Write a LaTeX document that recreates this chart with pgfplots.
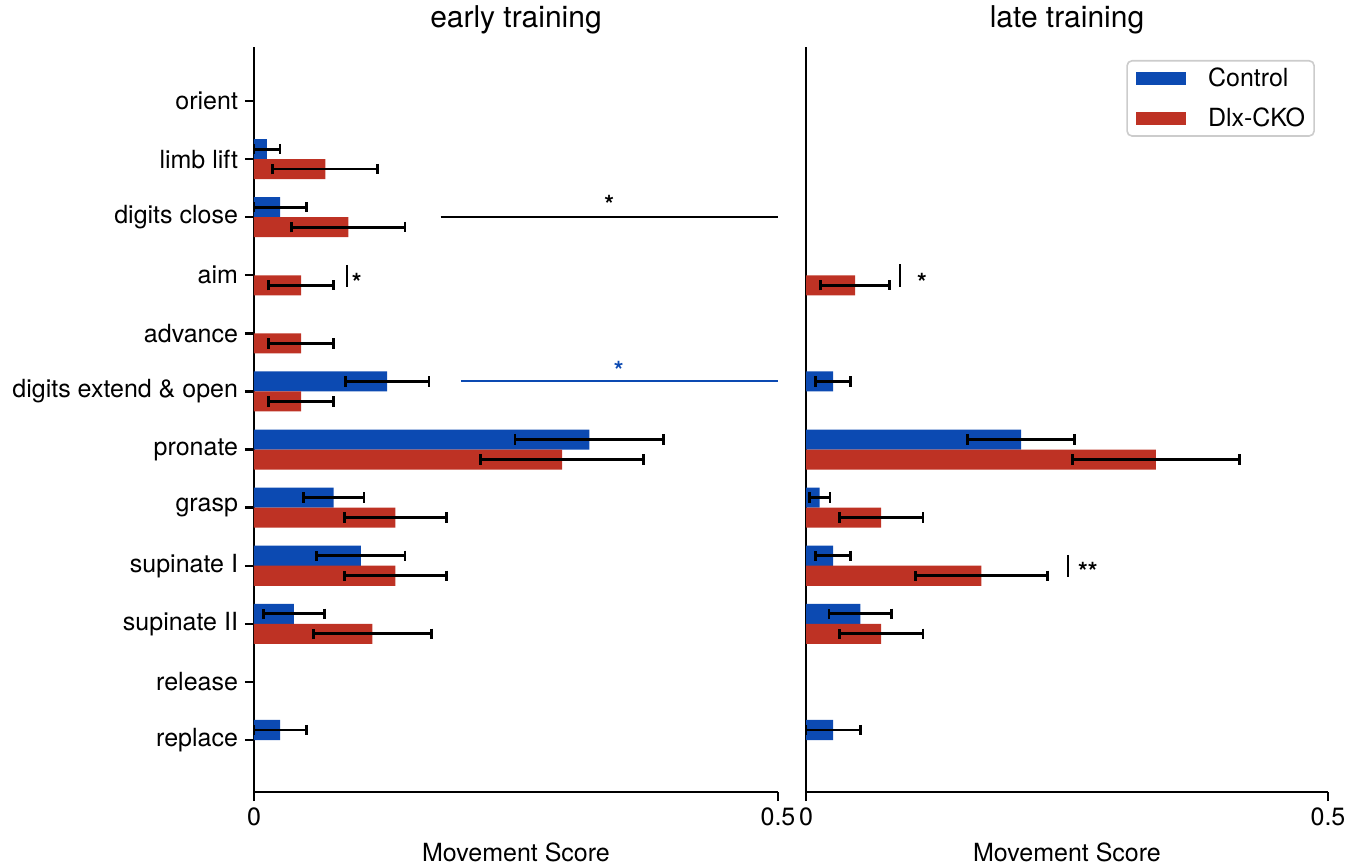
\documentclass[border=0pt]{standalone}
\usepackage{fontspec}
\setmainfont{TeX Gyre Heros}
\usepackage{pgfplots}
\pgfplotsset{compat=1.18}
\definecolor{cblue}{RGB}{12,74,178}
\definecolor{cred}{RGB}{190,50,36}
\newcommand{\lab}{\fontsize{12.5bp}{15bp}\selectfont}
\pgfplotsset{
 panel/.style={
  scale only axis, height=372.5bp,
  xbar, bar width=0.345,
  xmin=0, xmax=0.5, ymin=-0.895, ymax=11.93,
  axis x line*=bottom, axis y line*=left,
  axis line style={line width=1.2bp, -},
  xtick={0,0.5}, xticklabels={0,0.5},
  ytick={0,...,11},
  tick align=outside, major tick length=4.5bp,
  tick style={line width=1.2bp, black},
  every tick label/.append style={font=\lab},
  /pgf/number format/assume math mode=true,
  xlabel={Movement Score},
  xlabel style={font=\lab, at={(0.5,0)}, anchor=base, yshift=-34.5bp},
  every axis title/.style={font=\fontsize{15bp}{18bp}\selectfont, at={(0.5,1)}, anchor=base, yshift=9.5bp},
  error bars/x dir=both, error bars/x explicit,
  error bars/error bar style={line width=1.4bp, black},
  error bars/error mark options={line width=1.4bp, black, mark size=2.6bp, rotate=90},
  clip=false,
 },
 bl/.style={fill=cblue, draw=none, bar shift=0pt},
 rd/.style={fill=cred, draw=none, bar shift=0pt},
}
\begin{document}
\begin{tikzpicture}
\useasboundingbox (-127bp,-36.5bp) rectangle (554.5bp,396bp);
% ---------------- early training ----------------
\begin{axis}[panel, width=262bp, at={(0,0)}, anchor=south west,
  title={early training},
  yticklabels={replace,release,supinate II,supinate I,grasp,pronate,digits extend \& open,advance,aim,digits close,limb lift,orient}]
% Control (y = category + 0.172)
\addplot[bl] coordinates {
 (0.0124,10.172) +- (0.0124,0)
 (0.025,9.172) +- (0.025,0)
 (0.127,6.172) +- (0.040,0)
 (0.320,5.172) +- (0.071,0)
 (0.076,4.172) +- (0.029,0)
 (0.102,3.172) +- (0.042,0)
 (0.038,2.172) +- (0.029,0)
 (0.025,0.172) +- (0.025,0)
};
% Dlx-CKO (y = category - 0.172)
\addplot[rd] coordinates {
 (0.068,9.828) +- (0.050,0)
 (0.090,8.828) +- (0.054,0)
 (0.045,7.828) +- (0.031,0)
 (0.045,6.828) +- (0.031,0)
 (0.045,5.828) +- (0.031,0)
 (0.294,4.828) +- (0.078,0)
 (0.135,3.828) +- (0.049,0)
 (0.135,2.828) +- (0.049,0)
 (0.113,1.828) +- (0.056,0)
};
\draw[line width=1.3bp] (axis cs:0.178,9.0) -- (axis cs:0.5,9.0);
\node[anchor=base, yshift=-7bp, font=\lab\bfseries] at (axis cs:0.339,9.30) {*};
\draw[cblue, line width=1bp] (axis cs:0.1975,6.18) -- (axis cs:0.5,6.18);
\node[anchor=base, yshift=-7bp, font=\lab\bfseries, text=cblue] at (axis cs:0.348,6.455) {*};
\draw[line width=1.4bp] (axis cs:0.0887,8.18) -- (axis cs:0.0887,7.80);
\node[anchor=base, yshift=-7bp, font=\lab\bfseries] at (axis cs:0.098,7.97) {*};
\end{axis}
% ---------------- late training ----------------
\begin{axis}[panel, width=261bp, at={(276bp,0)}, anchor=south west,
  title={late training},
  ytick=\empty,
  legend style={at={(0.975,0.9826)}, anchor=north east, draw=black!20, rounded corners=2.5bp,
    line width=0.8bp, font=\lab, row sep=5bp, inner xsep=4.5bp, inner ysep=1.5bp,
    nodes={inner xsep=0pt},
    /tikz/every odd column/.append style={column sep=11bp}},
  legend cell align=left,
  legend image code/.code={\fill[#1, draw=none, sharp corners] (0bp,-3.2bp) rectangle (25bp,3.2bp);}]
\addplot[bl] coordinates {
 (0.026,6.172) +- (0.017,0)
 (0.206,5.172) +- (0.051,0)
 (0.013,4.172) +- (0.010,0)
 (0.026,3.172) +- (0.017,0)
 (0.052,2.172) +- (0.030,0)
 (0.026,0.172) +- (0.026,0)
};
\addlegendentry{Control}
\addplot[rd] coordinates {
 (0.047,7.828) +- (0.033,0)
 (0.335,4.828) +- (0.080,0)
 (0.072,3.828) +- (0.040,0)
 (0.168,2.828) +- (0.063,0)
 (0.072,1.828) +- (0.040,0)
};
\addlegendentry{Dlx-CKO}
\draw[line width=1.4bp] (axis cs:0.090,8.19) -- (axis cs:0.090,7.80);
\node[anchor=base, yshift=-7bp, font=\lab\bfseries] at (axis cs:0.111,7.97) {*};
\draw[line width=1.4bp] (axis cs:0.251,3.185) -- (axis cs:0.251,2.81);
\node[anchor=base, yshift=-7bp, font=\lab\bfseries] at (axis cs:0.270,2.995) {**};
\end{axis}
\end{tikzpicture}
\end{document}
